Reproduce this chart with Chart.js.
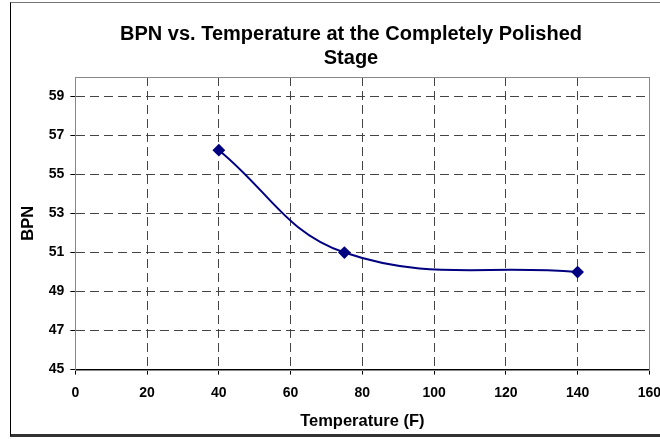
<!DOCTYPE html>
<html>
<head>
<meta charset="utf-8">
<script src="https://cdn.jsdelivr.net/npm/chart.js@4/dist/chart.umd.min.js"></script>
<style>
  html, body { margin: 0; padding: 0; background: #fff; overflow: hidden; }
  #wrap { position: relative; width: 660px; height: 439px; overflow: hidden; }
  #frame {
    position: absolute; left: 10px; top: 2px; width: 700px; height: 431px;
    border-left: 1px solid #000; border-top: 1px solid #777; border-bottom: 3px solid #333;
  }
  #c { position: absolute; left: 0; top: 0; }
</style>
</head>
<body>
<div id="wrap">
  <div id="frame"></div>
  <canvas id="c" width="671" height="439"></canvas>
</div>
<script>
// data
var temps = [40, 75, 140];
var bpn = [56.25, 51.0, 50.0];
var yTicks = [45, 47, 49, 51, 53, 55, 57, 59];
var titleLines = ['BPN vs. Temperature at the Completely Polished', 'Stage'];

var FONT = "'Liberation Sans', Arial, sans-serif";

// title is off-centre in the original, so draw it by hand
var titlePlugin = {
  id: 'xlTitle',
  afterDraw: function (chart) {
    var ctx = chart.ctx;
    ctx.save();
    ctx.font = 'bold 20px ' + FONT;
    ctx.fillStyle = '#000';
    ctx.textAlign = 'center';
    ctx.textBaseline = 'alphabetic';
    ctx.fillText(titleLines[0], 351, 40);
    ctx.fillText(titleLines[1], 351, 64);
    ctx.restore();
  }
};

// grey box round the plot area, axes drawn over it
var plotBorder = {
  id: 'plotBorder',
  beforeDatasetsDraw: function (chart) {
    var a = chart.chartArea, ctx = chart.ctx;
    ctx.save();
    ctx.strokeStyle = '#888';
    ctx.lineWidth = 1;
    ctx.strokeRect(Math.round(a.left) + 0.5, Math.round(a.top) + 0.5, Math.round(a.right - a.left), Math.round(a.bottom - a.top));
    ctx.restore();
  }
};

var points = temps.map(function (t, i) { return { x: t, y: bpn[i] }; });

new Chart(document.getElementById('c'), {
  type: 'line',
  data: {
    datasets: [{
      label: 'BPN',
      data: points,
      borderColor: '#000080',
      backgroundColor: '#000080',
      borderWidth: 2,
      tension: 0.4,
      pointStyle: 'rectRot',
      pointRadius: 5,
      pointHoverRadius: 5,
      pointBackgroundColor: '#000080',
      pointBorderColor: '#000080',
      fill: false
    }]
  },
  options: {
    responsive: false,
    animation: false,
    events: [],
    layout: { padding: { left: 10, top: 77, right: 0, bottom: 2.8 } },
    plugins: { legend: { display: false }, tooltip: { enabled: false }, title: { display: false } },
    scales: {
      x: {
        type: 'linear',
        min: 0, max: 160,
        ticks: { stepSize: 20, color: '#000', font: { family: FONT, size: 14, weight: 'bold' }, padding: 10, maxRotation: 0 },
        grid: { color: '#444', lineWidth: 1, tickLength: 5, tickColor: '#000', tickBorderDash: [] },
        border: { display: true, color: '#000', width: 1, dash: [9, 5] },
        title: { display: true, text: 'Temperature (F)', color: '#000', font: { family: FONT, size: 16.5, weight: 'bold' }, padding: { top: 0, bottom: 5 } }
      },
      y: {
        min: 45, max: 60,
        afterBuildTicks: function (scale) {
          scale.ticks = yTicks.map(function (v) { return { value: v }; });
        },
        ticks: { color: '#000', font: { family: FONT, size: 14, weight: 'bold' }, padding: 6 },
        grid: { color: '#444', lineWidth: 1, tickLength: 5, tickColor: '#000', tickBorderDash: [] },
        border: { display: true, color: '#000', width: 1, dash: [9, 5] },
        title: { display: true, text: 'BPN', color: '#000', font: { family: FONT, size: 16.5, weight: 'bold' }, padding: { top: 9, bottom: 4 } }
      }
    }
  },
  plugins: [plotBorder, titlePlugin]
});
</script>
</body>
</html>
